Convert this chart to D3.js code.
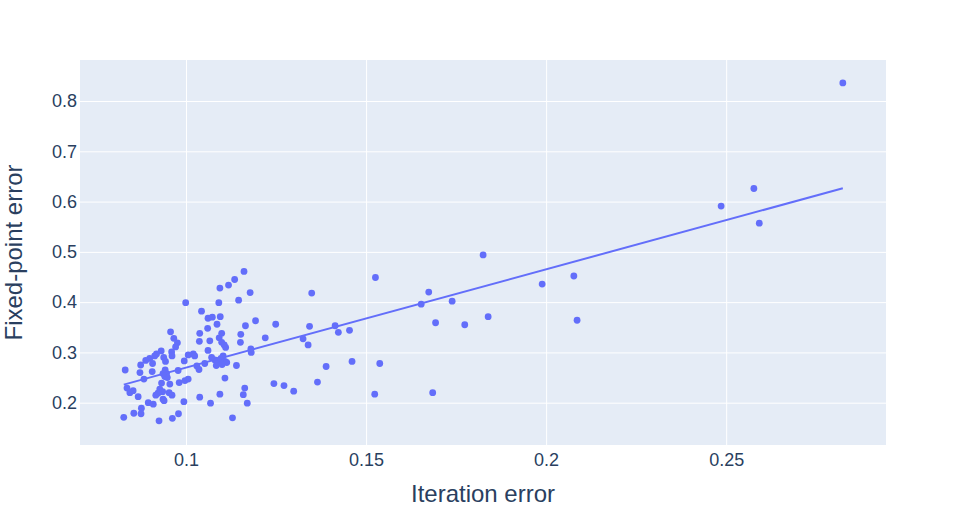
<!DOCTYPE html>
<html>
<head>
<meta charset="utf-8">
<script src="https://cdn.jsdelivr.net/npm/d3@7"></script>
<style>
html,body{margin:0;padding:0;background:#fff;}
svg{display:block;}
text{font-family:"Liberation Sans",Arial,sans-serif;fill:#2a3f5f;}
</style>
</head>
<body>
<svg id="chart" width="966" height="525"></svg>
<script>
// Iteration error (x) and Fixed-point error (y) per point
const iterationError = [
0.0999,0.0957,0.0966,0.0976,0.0971,0.0960,0.0961,0.0931,0.0918,0.0913,
0.0899,0.0888,0.0874,0.0907,0.0938,0.0943,0.0995,0.1006,0.0831,0.0872,
0.0906,0.0942,0.0946,0.0941,0.0948,0.0936,0.0978,0.0883,0.0932,0.0955,
0.0981,0.0997,0.1006,0.0836,0.0844,0.0853,0.0867,0.0927,0.0935,0.0922,
0.0916,0.0953,0.0961,0.0936,0.0939,0.0994,0.0895,0.0909,0.0876,0.0855,
0.0875,0.0827,0.0925,0.0962,0.0979,
0.1161,0.1135,0.1118,0.1094,0.1178,0.1091,0.1146,0.1043,0.1061,0.1073,
0.1095,0.1086,0.1193,0.1165,0.1038,0.1060,0.1099,0.1152,0.1092,0.1037,
0.1066,0.1151,0.1099,0.1106,0.1110,0.1061,0.1180,0.1181,0.1020,0.1024,
0.1071,0.1080,0.1089,0.1097,0.1103,0.1108,0.1113,0.1100,0.1052,0.1030,
0.1036,0.1084,0.1140,0.1108,0.1163,0.1159,0.1094,0.1038,0.1170,0.1068,
0.1129,0.1220,0.1244,
0.1526,0.1349,0.1249,0.1343,0.1414,0.1423,0.1454,0.1325,0.1339,0.1389,
0.1461,0.1538,0.1272,0.1299,0.1365,0.1524,
0.1825,0.1674,0.1653,0.1739,0.1693,0.1774,0.1839,0.1989,0.2077,0.2086,
0.1685,
0.2824,0.2577,0.2486,0.2592
];
const fixedPointError = [
0.399,0.341,0.328,0.319,0.311,0.301,0.293,0.303,0.297,0.293,
0.288,0.284,0.275,0.278,0.290,0.282,0.283,0.295,0.265,0.260,
0.262,0.265,0.258,0.252,0.250,0.258,0.264,0.247,0.239,0.237,
0.240,0.244,0.247,0.229,0.220,0.224,0.212,0.227,0.222,0.219,
0.215,0.220,0.215,0.207,0.204,0.202,0.200,0.197,0.189,0.179,
0.178,0.171,0.164,0.169,0.178,
0.461,0.445,0.434,0.428,0.419,0.399,0.404,0.382,0.368,0.370,
0.371,0.356,0.363,0.353,0.338,0.348,0.338,0.336,0.329,0.322,
0.323,0.320,0.320,0.315,0.310,0.304,0.307,0.300,0.297,0.293,
0.290,0.285,0.284,0.288,0.293,0.282,0.280,0.276,0.278,0.273,
0.266,0.274,0.274,0.249,0.229,0.216,0.217,0.211,0.199,0.199,
0.170,0.329,0.238,
0.449,0.418,0.356,0.352,0.353,0.340,0.344,0.327,0.315,0.272,
0.282,0.278,0.234,0.223,0.241,0.217,
0.494,0.420,0.396,0.402,0.359,0.355,0.371,0.436,0.452,0.364,
0.220,
0.836,0.626,0.591,0.557
];
// OLS trendline endpoints
const trendX = [0.0827, 0.2824];
const trendY = [0.2360, 0.6264];

const xTicks = [0.1, 0.15, 0.2, 0.25];
const xTickLabels = ["0.1", "0.15", "0.2", "0.25"];
const yTicks = [0.2, 0.3, 0.4, 0.5, 0.6, 0.7, 0.8];
const yTickLabels = ["0.2", "0.3", "0.4", "0.5", "0.6", "0.7", "0.8"];

const xTitle = "Iteration error";
const yTitle = "Fixed-point error";

const svg = d3.select("#chart");
const plot = {left: 80, right: 886, top: 60, bottom: 445};
const color = "#636efa";

const x = d3.scaleLinear().domain([0.07055, 0.29439]).range([plot.left, plot.right]);
const y = d3.scaleLinear().domain([0.11587, 0.88159]).range([plot.bottom, plot.top]);

svg.append("rect")
  .attr("x", plot.left).attr("y", plot.top)
  .attr("width", plot.right - plot.left).attr("height", plot.bottom - plot.top)
  .attr("fill", "#E5ECF6");

const xAxis = d3.axisBottom(x).tickValues(xTicks)
  .tickFormat((d, i) => xTickLabels[i])
  .tickSize(-(plot.bottom - plot.top)).tickPadding(8);
const gx = svg.append("g").attr("transform", `translate(0,${plot.bottom})`).call(xAxis);
gx.select(".domain").remove();
gx.selectAll(".tick line").attr("stroke", "#fff").attr("stroke-width", 1);
gx.selectAll(".tick text").attr("font-size", 18).attr("fill", "#2a3f5f")
  .attr("font-family", '"Liberation Sans",Arial,sans-serif');

const yAxis = d3.axisLeft(y).tickValues(yTicks)
  .tickFormat((d, i) => yTickLabels[i])
  .tickSize(-(plot.right - plot.left)).tickPadding(3);
const gy = svg.append("g").attr("transform", `translate(${plot.left},0)`).call(yAxis);
gy.select(".domain").remove();
gy.selectAll(".tick line").attr("stroke", "#fff").attr("stroke-width", 1);
gy.selectAll(".tick text").attr("font-size", 18).attr("fill", "#2a3f5f")
  .attr("font-family", '"Liberation Sans",Arial,sans-serif');

const pts = iterationError.map((v, i) => ({x: v, y: fixedPointError[i]}));
svg.append("g").selectAll("circle").data(pts).join("circle")
  .attr("cx", d => x(d.x)).attr("cy", d => y(d.y))
  .attr("r", 3.4).attr("fill", color);

const trend = trendX.map((v, i) => [v, trendY[i]]);
svg.append("path")
  .datum(trend)
  .attr("d", d3.line().x(d => x(d[0])).y(d => y(d[1])))
  .attr("fill", "none").attr("stroke", color).attr("stroke-width", 2);

svg.append("text")
  .attr("x", (plot.left + plot.right) / 2).attr("y", 502)
  .attr("text-anchor", "middle").attr("font-size", 24)
  .text(xTitle);

svg.append("text")
  .attr("transform", `translate(22,${(plot.top + plot.bottom) / 2}) rotate(-90)`)
  .attr("text-anchor", "middle").attr("font-size", 24)
  .text(yTitle);
</script>
</body>
</html>
